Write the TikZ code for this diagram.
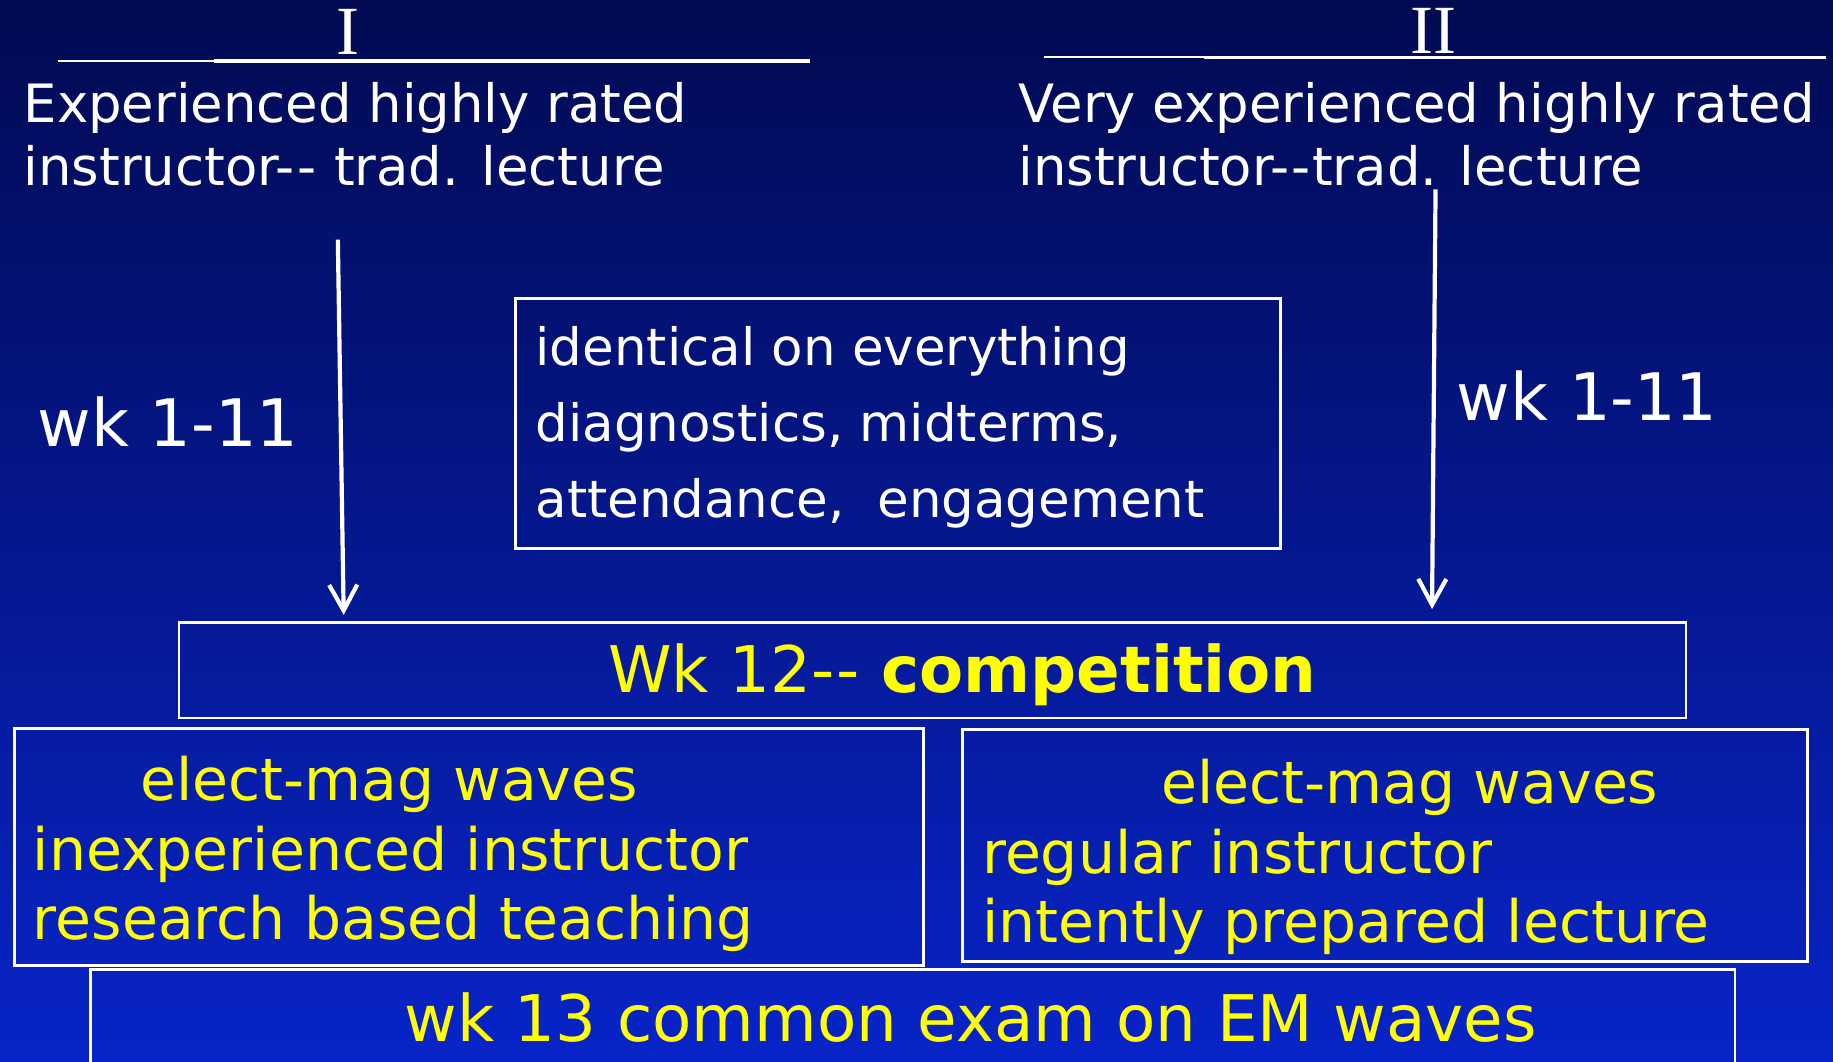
\documentclass[tikz,border=0pt]{standalone}
\usepackage{fontspec}
\setmainfont{DejaVu Sans}[Ligatures=NoCommon]
\newfontfamily\romfont{Liberation Serif}
\usetikzlibrary{arrows.meta}
\definecolor{bgtop}{RGB}{2,10,82}
\definecolor{bgbot}{RGB}{8,36,200}
\definecolor{ylw}{RGB}{255,255,0}
\newcommand{\dd}{-\kern2pt{}-\kern1pt{}}
\tikzset{
  wtxt/.style={text=white, inner sep=0pt, anchor=base west, font=\fontsize{45.2}{54}\selectfont},
  ytxt/.style={text=ylw, inner sep=0pt, anchor=base west, font=\fontsize{50}{58}\selectfont},
  boxframe/.style={draw=white, line width=2.4pt, inner sep=0pt, anchor=north west, rectangle},
  flowarrow/.style={draw=white, line width=3.6pt, -{Straight Barb[length=22pt,width=24pt,line width=3.6pt]}},
  rulethin/.style={draw=white, line width=2pt},
  rulethick/.style={draw=white, line width=3pt}
}
\begin{document}
\begin{tikzpicture}[x=1pt,y=-1pt]
\useasboundingbox (0,0) rectangle (1568,908);
\shade[top color=bgtop, bottom color=bgbot] (0,0) rectangle (1568,908);

% headings
\node[text=white, inner sep=0pt, anchor=base, font=\romfont\fontsize{59}{64}\selectfont] (romI) at (298,47) {I};
\node[text=white, inner sep=0pt, anchor=base, font=\romfont\fontsize{59}{64}\selectfont] (romII) at (1226,46) {II};
\coordinate (ruleIa) at (50,52);
\coordinate (ruleIb) at (183,52);
\coordinate (ruleIc) at (693,52);
\coordinate (ruleIIa) at (893,49);
\coordinate (ruleIIb) at (1030,49);
\coordinate (ruleIIc) at (1562,49);
\draw[rulethin] (ruleIa) -- (ruleIb);
\draw[rulethick] (ruleIb) -- (ruleIc);
\draw[rulethin] (ruleIIa) -- (ruleIIb);
\draw[rulethick] (ruleIIb) -- (ruleIIc);

\node[wtxt] (hl1) at (20,105) {Experienced highly rated};
\node[wtxt] (hl2) at (20,159) {instructor\dd{} trad. lecture};
\node[wtxt] (hr1) at (871,105) {Very experienced highly rated};
\node[wtxt] (hr2) at (871,159) {instructor\dd{}trad. lecture};

% week labels
\node[text=white, inner sep=0pt, anchor=base west, font=\fontsize{56}{60}\selectfont] (wkl) at (32,382) {wk 1-11};
\node[text=white, inner sep=0pt, anchor=base west, font=\fontsize{56}{60}\selectfont] (wkr) at (1246,360) {wk 1-11};

% identical box
\node[boxframe, minimum width=654pt, minimum height=214pt] (idbox) at (440,254) {};
\node[wtxt, font=\fontsize{44}{54}\selectfont] (id1) at (458,313) {identical on everything};
\node[wtxt, font=\fontsize{44}{54}\selectfont] (id2) at (458,378) {diagnostics, midterms,};
\node[wtxt, font=\fontsize{44}{54}\selectfont] (id3) at (458,443) {attendance,\ \ engagement};

% competition box
\node[boxframe, minimum width=1289pt, minimum height=82pt] (compbox) at (152,531) {};
\node[text=ylw, inner sep=0pt, anchor=base west, font=\fontsize{55}{60}\selectfont] (comptxt) at (520,592) {Wk 12\dd{} \textbf{competition}};

% arrows
\coordinate (arLs) at (289,205);
\coordinate (arLe) at (294,526);
\coordinate (arRs) at (1228,162);
\coordinate (arRe) at (1225,521);
\draw[flowarrow] (arLs) -- (arLe);
\draw[flowarrow] (arRs) -- (arRe);

% left group box
\node[boxframe, minimum width=778pt, minimum height=203pt] (lbox) at (11,622) {};
\node[ytxt] (l1) at (120,685) {elect-mag waves};
\node[ytxt] (l2) at (28,745) {inexperienced instructor};
\node[ytxt] (l3) at (28,804) {research based teaching};

% right group box
\node[boxframe, minimum width=723pt, minimum height=198pt] (rbox) at (822,623) {};
\node[ytxt] (r1) at (993,687) {elect-mag waves};
\node[ytxt] (r2) at (840,747) {regular instructor};
\node[ytxt] (r3) at (840,806) {intently prepared lecture};

% exam box
\node[boxframe, minimum width=1407pt, minimum height=110pt] (exambox) at (76,828) {};
\node[text=ylw, inner sep=0pt, anchor=base west, font=\fontsize{55}{60}\selectfont] (examtxt) at (346,891) {wk 13 common exam on EM waves};
\end{tikzpicture}
\end{document}
